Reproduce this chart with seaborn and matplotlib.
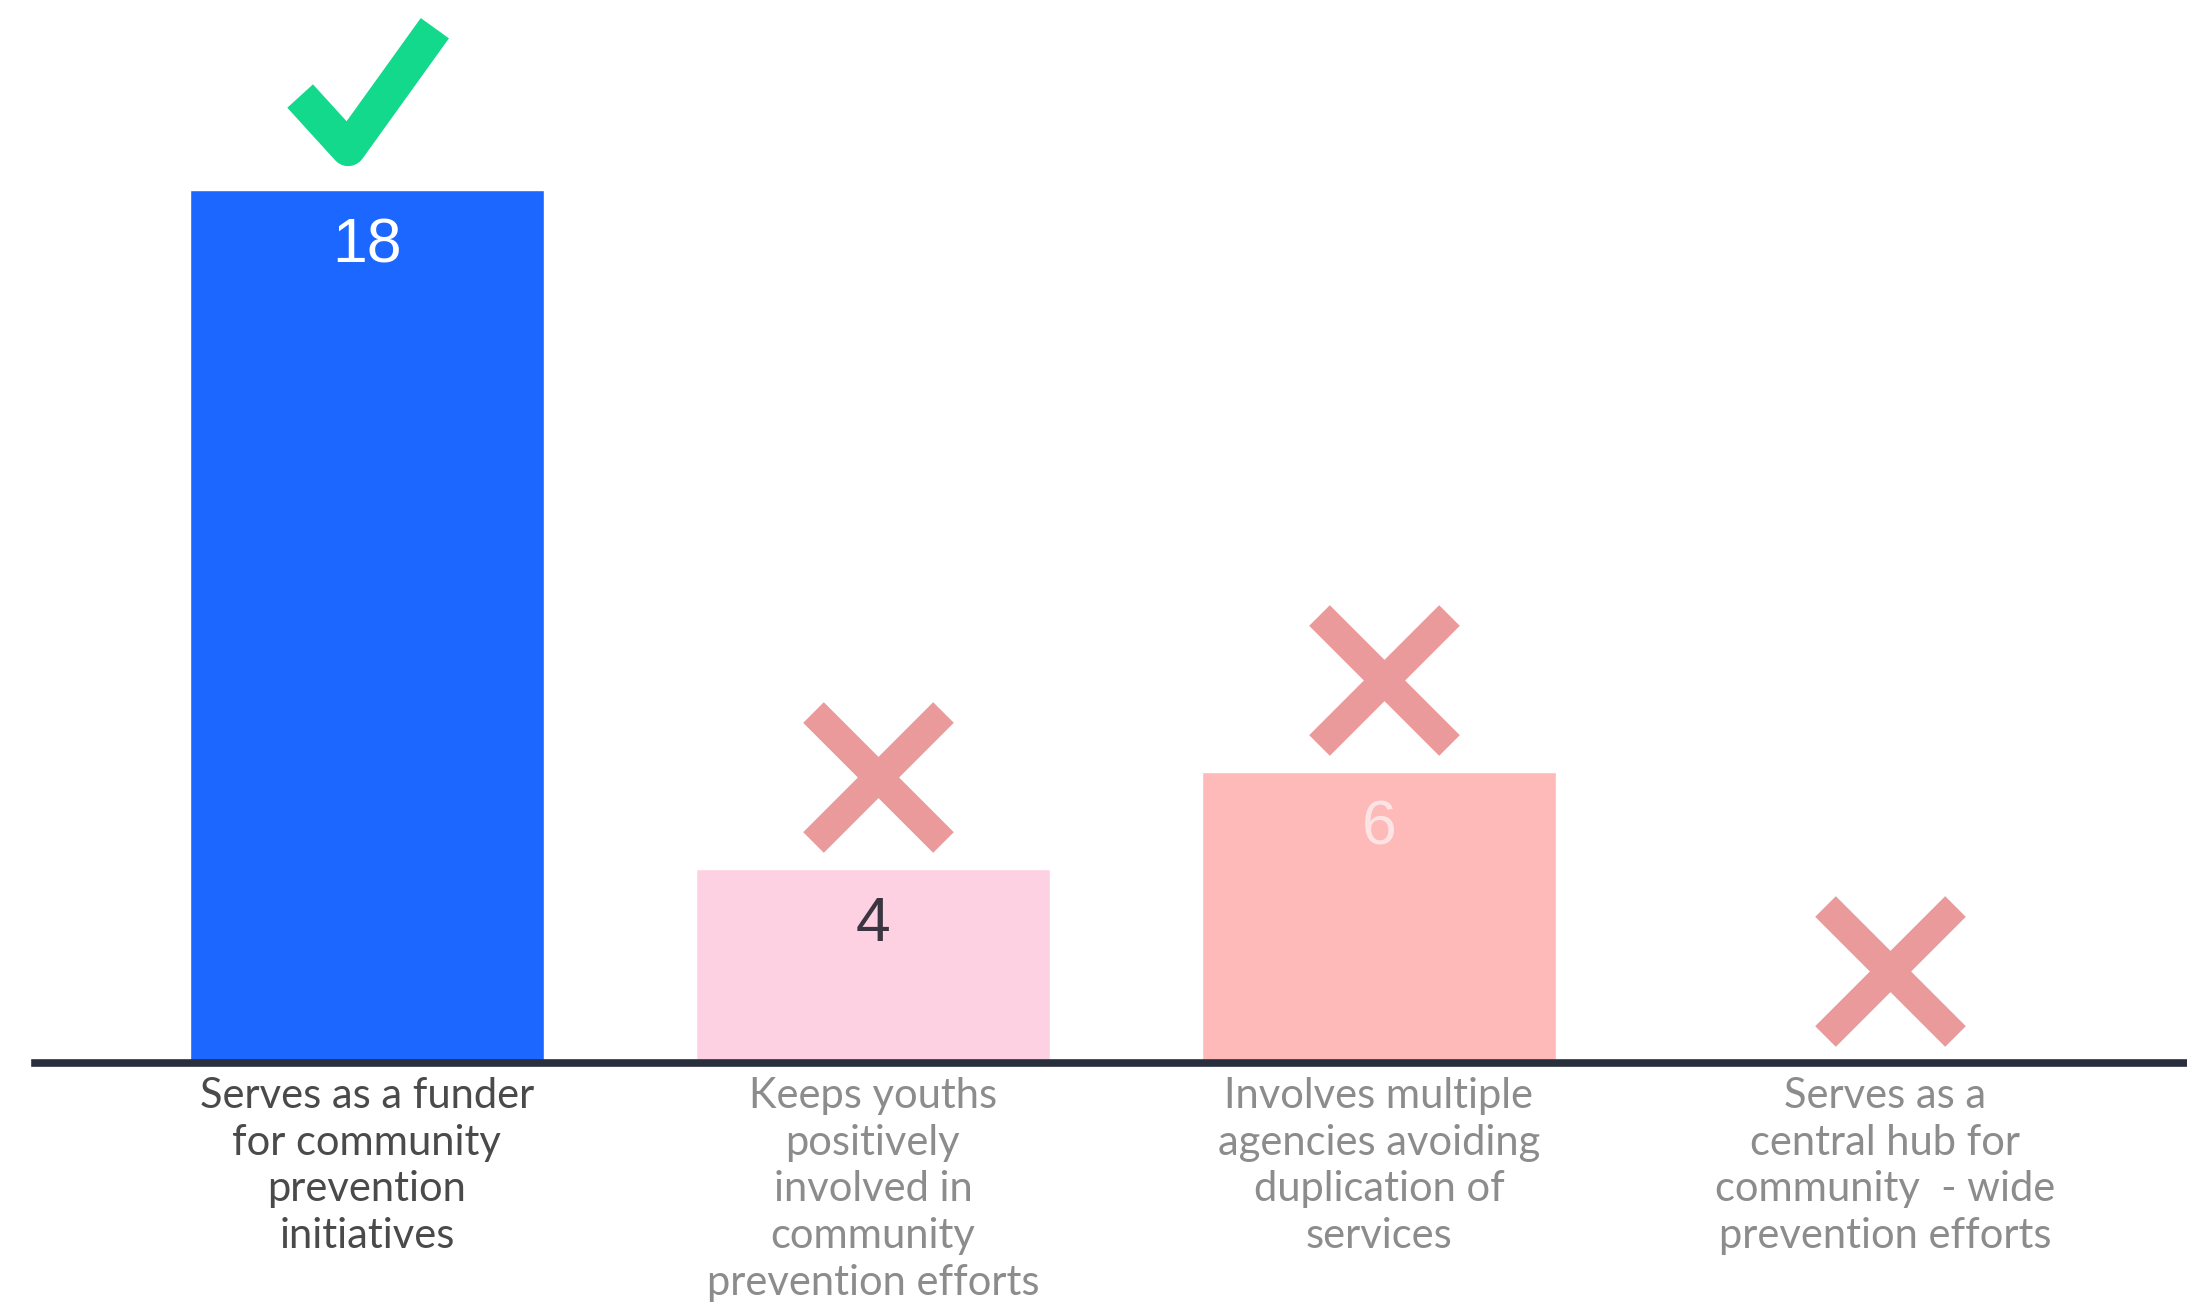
import matplotlib
matplotlib.use("Agg")
import matplotlib.pyplot as plt
from matplotlib.path import Path
from matplotlib.markers import MarkerStyle
import seaborn as sns

# data
categories = [
    "Serves as a funder\nfor community\nprevention\ninitiatives",
    "Keeps youths\npositively\ninvolved in\ncommunity\nprevention efforts",
    "Involves multiple\nagencies avoiding\nduplication of\nservices",
    "Serves as a\ncentral hub for\ncommunity  - wide\nprevention efforts",
]
values = [18, 4, 6, 0]
value_labels = ["18", "4", "6", None]
verdicts = ["check", "x", "x", "x"]

bar_colors = ["#1C67FF", "#FDD1E1", "#FEB9B9", "#FEB9B9"]
value_colors = ["#FFFFFF", "#3B3441", "#FDE4E4", "#FFFFFF"]
label_colors = ["#4A4A4A", "#8C8C8C", "#8C8C8C", "#8C8C8C"]

sns.set_theme(style="white")
plt.rcParams["font.family"] = ["Lato", "DejaVu Sans"]

fig = plt.figure(figsize=(21.87, 13.05), dpi=100)
ax = fig.add_axes([0.016, 0.1854, 0.984, 0.8146])

sns.barplot(x=list(range(len(values))), y=values, hue=list(range(len(values))),
            palette=bar_colors, legend=False, width=0.7, saturation=1, ax=ax)

ax.set_xlim(-0.656, 3.597)
ax.set_ylim(0, 21.92)

# value labels inside bars
for i, (v, lab) in enumerate(zip(values, value_labels)):
    if lab:
        ax.text(i, v - 1.15, lab, ha="center", va="center", fontsize=45,
                color=value_colors[i], family="Liberation Sans")

# check / cross markers above bars
check_path = Path([(-71.5, -8), (-20.5, -64), (71.5, 64)],
                  [Path.MOVETO, Path.LINETO, Path.LINETO])
check_marker = MarkerStyle(check_path, joinstyle="miter", capstyle="butt")
for i, (v, kind) in enumerate(zip(values, verdicts)):
    if kind == "check":
        ax.plot([i], [v + 2.1], linestyle="none", marker=check_marker,
                markersize=97, markeredgewidth=25, markeredgecolor="#12D98C",
                markerfacecolor="none", clip_on=False)
    else:
        ax.plot([i + 0.01], [v + 1.9], linestyle="none", marker="x",
                markersize=94, markeredgewidth=21, markeredgecolor="#EA9A9A",
                clip_on=False)

sns.despine(ax=ax, left=True, top=True, right=True)
ax.spines["bottom"].set_color("#2A2F3D")
ax.spines["bottom"].set_linewidth(5.5)
ax.set_yticks([])
ax.set_ylabel("")
ax.set_xticks(range(len(categories)))
ax.set_xticklabels(categories, fontsize=30, linespacing=1.28)
for tl, c in zip(ax.get_xticklabels(), label_colors):
    tl.set_color(c)
ax.tick_params(axis="x", length=0, pad=10)

fig.savefig("out.png", dpi=100, facecolor="white")
